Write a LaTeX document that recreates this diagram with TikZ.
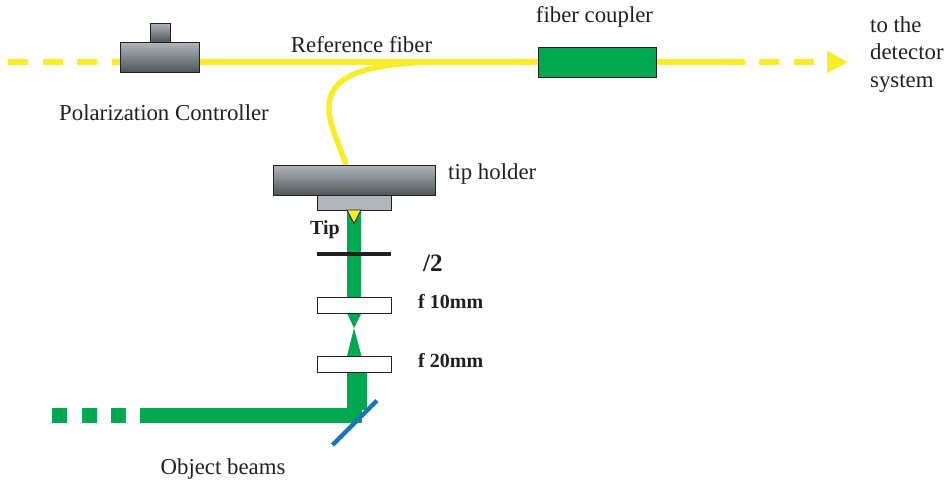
\documentclass[tikz,border=0pt]{standalone}
\usepackage{fontspec}
\setmainfont{Liberation Serif}
\usetikzlibrary{arrows.meta,positioning,backgrounds}
\definecolor{FiberYellow}{HTML}{F9EC28}
\definecolor{BeamGreen}{HTML}{00A84F}
\definecolor{MirrorBlue}{HTML}{1C75BC}
\definecolor{Ink}{HTML}{231F20}
\definecolor{SteelLight}{HTML}{B1B6BC}
\definecolor{SteelDark}{HTML}{4F5759}

\begin{document}
\begin{tikzpicture}[
  x=1pt, y=-1pt,
  steelbox/.style={draw=Ink, line width=1pt, top color=SteelLight, bottom color=SteelDark,
                   outer sep=0pt, inner sep=0pt},
  mountbox/.style={draw=Ink, line width=1pt, fill=SteelLight, outer sep=0pt, inner sep=0pt,
                   minimum width=74pt, minimum height=15pt},
  lensbox/.style={draw=Ink, line width=1pt, fill=white, outer sep=0pt, inner sep=0pt,
                  minimum width=74pt, minimum height=16pt},
  fiber/.style={draw=FiberYellow, line width=6pt},
  beam/.style={draw=BeamGreen, line width=14.5pt},
  plain/.style={text=Ink, font=\fontsize{22.8}{27.5}\selectfont, inner sep=0pt},
  strong/.style={text=Ink, font=\fontsize{20}{24}\selectfont\bfseries, inner sep=0pt},
  node distance=0pt
]
  \useasboundingbox (0,0) rectangle (950,483);

  % fiber side
  \node[steelbox, minimum width=79pt, minimum height=30pt] (pcbox) at (160,57) {};
  \node[steelbox, minimum width=20pt, minimum height=19pt, above=of pcbox] (pctop) {};
  \node[draw=Ink, line width=1pt, fill=BeamGreen, outer sep=0pt, minimum width=118pt, minimum height=30pt] (coupler) at (597,62) {};
  \node[steelbox, minimum width=162pt, minimum height=30pt] (holder) at (354,180) {};
  \node[mountbox, below=of holder] (mount) {};

  \coordinate (fiberin) at (8,62);
  \coordinate (fiberout) at (745,62);
  \coordinate (dashout) at (759,62);
  \coordinate (detector) at (848,62);
  \coordinate (holderin) at (346,165);
  \coordinate (merge) at (420,62.5);

  % beam side
  \node[draw=none, fill=Ink, outer sep=0pt, inner sep=0pt, minimum width=74pt, minimum height=3.5pt] (plate) at (354,254) {};
  \node[lensbox] (lensa) at (354,305) {};
  \node[lensbox] (lensb) at (354,364) {};
  \coordinate (beamin) at (52,415.5);
  \coordinate (beamdash) at (126,415.5);
  \coordinate (beamsolid) at (140,415.5);
  \coordinate (beamcorner) at (362,415.5);
  \coordinate (mirrorlo) at (332.5,445);
  \coordinate (mirrorhi) at (377,400.5);

  \begin{scope}[on background layer]
    \draw[fiber, dash pattern=on 20pt off 14.5pt] (fiberin) -- (pcbox.west |- fiberin);
    \draw[fiber] (pcbox.east |- fiberin) -- (coupler.west);
    \draw[fiber] (coupler.east) -- (fiberout);
    \draw[fiber, dash pattern=on 20pt off 15pt, -{Triangle[length=21pt,width=21pt,sep=0pt]}] (dashout) -- (detector);
    \draw[fiber, line width=5.5pt] (holderin) .. controls (338,141) and (329,125) .. (329,108)
      .. controls (329,85) and (345,66) .. (merge);
    \draw[beam] (mount.south) -- (lensa.north);
    \fill[BeamGreen] ([xshift=-7pt]lensa.south) -- (354,328) -- ([xshift=7.5pt]lensa.south) -- cycle;
    \fill[BeamGreen] ([xshift=-7pt]lensb.north) -- (354,328) -- ([xshift=7.5pt]lensb.north) -- cycle;
    \fill[BeamGreen] ([xshift=-7pt]lensb.south) -- ([xshift=13pt]lensb.south) -- (367,410) -- (347,410) -- cycle;
    \draw[beam, line width=15pt] (beamsolid) -- (beamcorner);
    \draw[beam, line width=15pt, dash pattern=on 15pt off 14.5pt] (beamin) -- (beamdash);
  \end{scope}

  \draw[draw=Ink, line width=0.8pt, fill=FiberYellow, line join=miter] (347,210) -- (354,223.5) -- (361,210) -- cycle;
  \draw[MirrorBlue, line width=4.5pt] (mirrorlo) -- (mirrorhi);

  % labels
  \node[plain] (reflabel) at (361.5,45) {Reference fiber};
  \node[plain, below=32pt of pcbox, xshift=4pt] (pclabel) {Polarization Controller};
  \node[plain] (couplerlabel) at (594.5,17) {fiber coupler};
  \node[plain, align=left, anchor=west] (detlabel) at (870,54.5) {to the\\detector\\system};
  \node[plain, anchor=west] (holderlabel) at (448,174) {tip holder};
  \node[plain] (beamlabel) at (223,469) {Object beams};
  \node[strong] (tiplabel) at (325,230) {Tip};
  \node[strong, font=\fontsize{25}{30}\selectfont\bfseries, anchor=west] (platelabel) at (423,263) {/2};
  \node[strong, anchor=west] (lensalabel) at (418,302) {f 10mm};
  \node[strong, anchor=west] (lensblabel) at (418,361) {f 20mm};
\end{tikzpicture}
\end{document}
